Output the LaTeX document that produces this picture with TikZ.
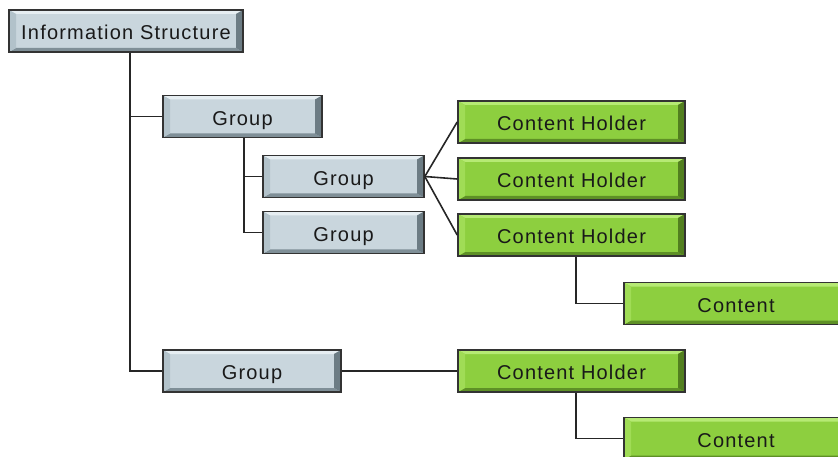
\documentclass[tikz,border=0pt]{standalone}
\usepackage{fontspec}
\usepackage{tikz}
\usetikzlibrary{calc}
\newfontfamily\boxfont[LetterSpace=6]{Liberation Sans}
\definecolor{grayface}{HTML}{C9D6DD}
\definecolor{graytop}{HTML}{E6EEF2}
\definecolor{grayleft}{HTML}{B2C2CA}
\definecolor{graybot}{HTML}{7F8F97}
\definecolor{grayright}{HTML}{6C7C84}
\definecolor{greenface}{HTML}{8DCF3F}
\definecolor{greentop}{HTML}{B6EA74}
\definecolor{greenleft}{HTML}{A0DC56}
\definecolor{greenbot}{HTML}{5E9026}
\definecolor{greenright}{HTML}{527F1F}
\tikzset{
  bevel/.style={path picture={
      \path (path picture bounding box.south west) coordinate (sw)
            (path picture bounding box.north east) coordinate (ne)
            (sw |- ne) coordinate (nw) (ne |- sw) coordinate (se);
      \fill[bvtop] (nw) -- (ne) -- ([shift={(-7pt,-4pt)}]ne) -- ([shift={(7pt,-4pt)}]nw) -- cycle;
      \fill[bvbot] (sw) -- (se) -- ([shift={(-7pt,4pt)}]se) -- ([shift={(7pt,4pt)}]sw) -- cycle;
      \fill[bvleft] (nw) -- ([shift={(7pt,-4pt)}]nw) -- ([shift={(7pt,4pt)}]sw) -- (sw) -- cycle;
      \fill[bvright] (ne) -- ([shift={(-7pt,-4pt)}]ne) -- ([shift={(-7pt,4pt)}]se) -- (se) -- cycle;
  }},
  tbox/.style={draw=black!80, line width=1.6pt, bevel, fill=bvface, inner sep=0pt,
    minimum height=42pt, text height=19.4pt, text depth=2pt, text=black!90,
    font=\boxfont\fontsize{20}{24}\selectfont},
  grpbox/.style={tbox, /utils/exec={\colorlet{bvface}{grayface}\colorlet{bvtop}{graytop}%
      \colorlet{bvleft}{grayleft}\colorlet{bvbot}{graybot}\colorlet{bvright}{grayright}}},
  holdbox/.style={tbox, /utils/exec={\colorlet{bvface}{greenface}\colorlet{bvtop}{greentop}%
      \colorlet{bvleft}{greenleft}\colorlet{bvbot}{greenbot}\colorlet{bvright}{greenright}}},
  tlink/.style={draw=black!85, line width=1.6pt},
}
\begin{document}
\begin{tikzpicture}[x=1pt, y=-1pt]
  \useasboundingbox (0,0) rectangle (838,457);
  % tree on the left
  \node[grpbox, minimum width=234pt] (info) at (126,31) {Information Structure};
  \node[grpbox, minimum width=159pt] (grpA) at (242.5,116.5) {Group};
  \node[grpbox, minimum width=161pt] (grpB) at (343.5,176.5) {Group};
  \node[grpbox, minimum width=161pt] (grpC) at (343.5,232.5) {Group};
  \node[grpbox, minimum width=178pt] (grpD) at (252,371) {Group};
  % holders and contents
  \node[holdbox, minimum width=227pt] (holdA) at (571.5,122) {Content Holder};
  \node[holdbox, minimum width=227pt] (holdB) at (571.5,179) {Content Holder};
  \node[holdbox, minimum width=227pt] (holdC) at (571.5,235) {Content Holder};
  \node[holdbox, minimum width=227pt] (holdD) at (571.5,371) {Content Holder};
  \node[holdbox, minimum width=224pt] (cntA) at (736,303.5) {Content};
  \node[holdbox, minimum width=224pt] (cntB) at (736,438.5) {Content};
  % connectors
  \draw[tlink] ([xshift=4pt]info.south) |- (grpA.west);
  \draw[tlink] ([xshift=4pt]info.south) |- (grpD.west);
  \draw[tlink] ([xshift=1.5pt]grpA.south) |- (grpB.west);
  \draw[tlink] ([xshift=1.5pt]grpA.south) |- (grpC.west);
  \draw[tlink] (grpB.east) -- (holdA.west);
  \draw[tlink] (grpB.east) -- (holdB.west);
  \draw[tlink] (grpB.east) -- (holdC.west);
  \draw[tlink] (grpD.east) -- (holdD.west);
  \draw[tlink] ([xshift=4.5pt]holdC.south) |- (cntA.west);
  \draw[tlink] ([xshift=4.5pt]holdD.south) |- (cntB.west);
\end{tikzpicture}
\end{document}
